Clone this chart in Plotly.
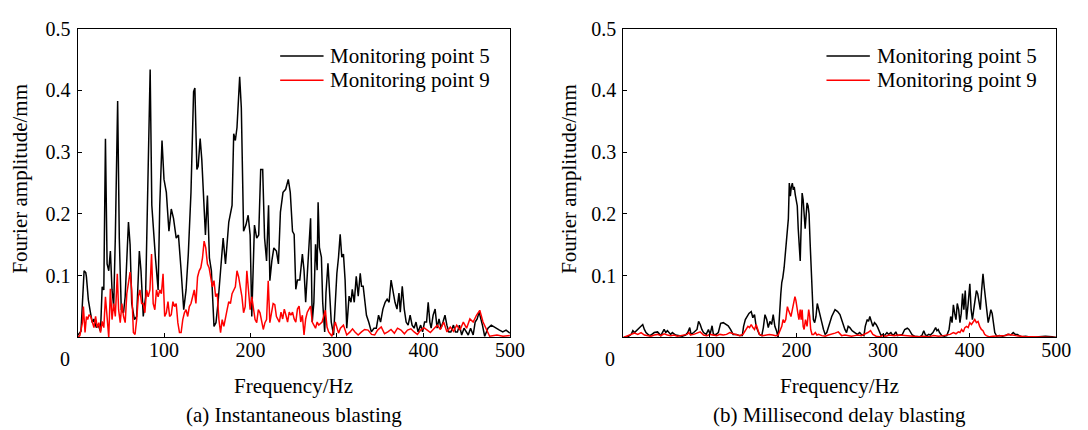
import plotly.graph_objects as go

# ---------------- data ----------------
# (a) Instantaneous blasting
a_p5_f = [0, 4, 7.6, 9.5, 10.3, 12.5, 15, 17.1, 19, 21.7, 24, 26.6, 28.5, 30.4, 32.3, 34.2, 36.1, 38.0, 39.9, 41.8,
          43.7, 46.4, 48.3, 50.6, 53.2, 55.1, 58.9, 60.8, 62.7, 65.8, 68.4, 71.5, 73.4, 76.0, 78.7, 81.7, 84.0, 85.9,
          88.2, 90.1, 93.2, 95.1, 97.7, 100, 102.7, 105.7, 108.4, 111, 114.1, 116.7, 119.8, 122.8, 125.5, 128.1,
          131.2, 134.2, 135.7, 138.0, 139.5, 141.8, 143.7, 146.4, 147.9, 150.2, 152.5, 154.8, 156.3, 157.8, 160.1,
          162.4, 165.4, 168.4, 171.1, 174.9, 178.7, 180.6, 182.5, 184.4, 187.5, 189.4, 192, 194.7, 197.3, 199.6,
          201.5, 204.6, 207.2, 209.5, 211.8, 214.1, 216.3, 218.6, 220.9, 222.4, 224.7, 227, 230, 232.3, 234.6,
          237.6, 240.7, 243.7, 246.0, 248.6, 250.5, 252.4, 254.3, 257, 260, 261.9, 263.8, 265.7, 267.6, 269.5,
          271.4, 273.3, 275.2, 277.1, 278.2, 279.7, 282, 283.5, 285.8, 287.3, 289.6, 291.1, 293.4, 296.1, 298,
          299.9, 301.8, 303.7, 305.6, 307.5, 309.4, 311.3, 314, 316.2, 317.7, 320, 322.3, 324.6, 326.9, 328.4,
          330.3, 332.2, 334.1, 336.7, 339.8, 342.8, 345.5, 348.1, 350.4, 353.1, 355.7, 358, 360.3, 362.6, 364.8,
          367.1, 369.4, 371.7, 373.2, 375.5, 377.8, 380.0, 382.3, 384.6, 386.9, 389.2, 391.4, 393.7, 396.8, 399.0,
          401.3, 403.6, 405.5, 407.4, 408.9, 411.2, 413.5, 415.8, 418.0, 420.3, 422.6, 424.9, 427.1, 429.4, 431.7,
          434.7, 437.0, 439.3, 441.6, 444.2, 446.9, 449.2, 451.8, 454.5, 457.5, 459.8, 462.1, 464.4, 465.1, 468.2,
          470.8, 474.6, 478.4, 483.4, 487.9, 491.7, 495.5, 500]
a_p5_v = [0.003, 0.01, 0.108, 0.105, 0.098, 0.061, 0.04, 0.024, 0.03, 0.016, 0.02, 0.01, 0.082, 0.077, 0.322, 0.119,
          0.108, 0.14, 0.077, 0.05, 0.161, 0.383, 0.161, 0.045, 0.04, 0.066, 0.187, 0.15, 0.055, 0.029, 0.034, 0.14,
          0.108, 0.034, 0.066, 0.256, 0.434, 0.214, 0.161, 0.129, 0.077, 0.214, 0.319, 0.256, 0.235, 0.172, 0.208,
          0.193, 0.161, 0.166, 0.108, 0.045, 0.077, 0.135, 0.235, 0.398, 0.404, 0.272, 0.277, 0.322, 0.288, 0.193,
          0.166, 0.23, 0.129, 0.108, 0.066, 0.018, 0.024, 0.055, 0.108, 0.161, 0.119, 0.187, 0.214, 0.33, 0.319,
          0.34, 0.422, 0.372, 0.172, 0.182, 0.198, 0.166, 0.034, 0.182, 0.161, 0.166, 0.272, 0.272, 0.161, 0.124,
          0.214, 0.092, 0.124, 0.145, 0.14, 0.119, 0.203, 0.235, 0.24, 0.256, 0.235, 0.172, 0.167, 0.078, 0.093,
          0.093, 0.135, 0.109, 0.057, 0.099, 0.151, 0.193, 0.025, 0.057, 0.151, 0.109, 0.219, 0.146, 0.13, 0.057,
          0.009, 0.072, 0.12, 0.083, 0.025, 0.004, 0.057, 0.104, 0.13, 0.167, 0.13, 0.135, 0.093, 0.015, 0.067,
          0.057, 0.078, 0.057, 0.099, 0.067, 0.104, 0.083, 0.083, 0.062, 0.036, 0.025, 0.009, 0.015, 0.015, 0.036,
          0.025, 0.046, 0.057, 0.062, 0.057, 0.093, 0.072, 0.057, 0.046, 0.072, 0.041, 0.083, 0.046, 0.025, 0.02,
          0.036, 0.02, 0.015, 0.025, 0.009, 0.02, 0.009, 0.025, 0.025, 0.057, 0.025, 0.015, 0.036, 0.046, 0.015,
          0.03, 0.015, 0.025, 0.036, 0.02, 0.009, 0.009, 0.02, 0.009, 0.009, 0.02, 0.004, 0.015, 0.009, 0.004, 0.015,
          0.004, 0.025, 0.03, 0.041, 0.036, 0.02, 0.002, 0.015, 0.02, 0.015, 0.012, 0.009, 0.012, 0.007]

a_p9_f = [0, 2.7, 5.7, 6.8, 8.7, 10.3, 11.8, 13.3, 15.2, 17.1, 19, 20.9, 22.8, 24.7, 26.6, 28.5, 30.4, 32.3, 34.2,
          36.1, 38, 39.9, 41.8, 43.7, 46, 47.5, 49.4, 51.3, 53.2, 55.1, 57, 58.9, 60.8, 62.7, 64.6, 66.5, 68.4, 70.3,
          72.2, 74.1, 76, 77.9, 79.8, 81.7, 83.7, 85.6, 87.5, 89.4, 91.3, 93.2, 95.1, 97, 98.9, 100.8, 102.7, 104.6,
          106.5, 108.4, 110.3, 112.2, 114.1, 116, 117.9, 119.8, 121.7, 123.6, 125.5, 127.4, 129.3, 131.2, 133.1,
          135, 136.9, 138.8, 140.7, 142.6, 144.5, 146.4, 148.3, 150.2, 152.1, 154, 155.9, 157.8, 159.7, 161.6,
          163.5, 165.4, 167.3, 169.2, 171.1, 173, 174.9, 176.8, 178.7, 180.6, 182.5, 184.4, 186.3, 188.2, 190.1,
          192, 193.9, 195.8, 197.7, 199.6, 201.5, 203.4, 205.3, 207.2, 209.1, 211, 212.9, 214.8, 216.7, 218.6,
          220.5, 222.4, 224.3, 226.2, 228.1, 230, 233.4, 235.3, 237.2, 239.1, 241, 242.9, 244.8, 246.7, 248.6,
          250.5, 252.4, 254.3, 256.2, 258.1, 260, 261.9, 263.8, 265.7, 267.6, 269.5, 271.4, 273.3, 275.2, 277.1,
          279, 282.8, 284.7, 286.6, 288.5, 290.4, 294.2, 298, 301.8, 304, 307.5, 311.3, 315.1, 318, 320.8, 324.5,
          328.4, 332, 336, 340, 343.6, 347, 351.2, 355, 358.8, 362.5, 366.4, 370, 374, 378, 381.6, 385.5, 389.2,
          393, 396.8, 400.5, 404.4, 408, 412, 416, 419.6, 423.4, 427.2, 431, 434.8, 438.5, 442.3, 446.1, 449.9,
          453.7, 457.5, 461.3, 465.1, 467, 468.9, 476.5, 485, 492, 500]
a_p9_v = [0, 0.003, 0.024, 0.05, 0.008, 0.034, 0.029, 0.037, 0.034, 0.026, 0.016, 0.034, 0.016, 0.024, 0.008, 0.026,
          0.016, 0.066, 0.024, 0.0, 0.079, 0.029, 0.055, 0.034, 0.103, 0.045, 0.024, 0.055, 0.034, 0.024, 0.071,
          0.092, 0.106, 0.077, 0.008, 0.005, 0.029, 0.066, 0.077, 0.055, 0.055, 0.04, 0.077, 0.066, 0.077, 0.135,
          0.055, 0.045, 0.077, 0.066, 0.077, 0.071, 0.103, 0.034, 0.04, 0.058, 0.034, 0.037, 0.058, 0.05, 0.055,
          0.024, 0.008, 0.008, 0.029, 0.04, 0.045, 0.034, 0.05, 0.055, 0.066, 0.077, 0.055, 0.098, 0.108, 0.113,
          0.129, 0.156, 0.145, 0.119, 0.113, 0.098, 0.082, 0.092, 0.066, 0.071, 0.029, 0.008, 0.029, 0.018, 0.034,
          0.045, 0.058, 0.055, 0.071, 0.077, 0.082, 0.108, 0.098, 0.082, 0.066, 0.04, 0.05, 0.108, 0.071, 0.045,
          0.066, 0.05, 0.029, 0.024, 0.045, 0.04, 0.024, 0.013, 0.024, 0.029, 0.092, 0.024, 0.04, 0.055, 0.053,
          0.034, 0.025, 0.041, 0.03, 0.046, 0.036, 0.025, 0.041, 0.036, 0.041, 0.03, 0.025, 0.046, 0.051, 0.025,
          0.036, 0.004, 0.03, 0.041, 0.046, 0.051, 0.025, 0.02, 0.015, 0.025, 0.02, 0.025, 0.033, 0.044, 0.017,
          0.009, 0.002, 0.025, 0.007, 0.015, 0.02, 0.004, 0.009, 0.014, 0.009, 0.004, 0.009, 0.013, 0.012, 0.005,
          0.004, 0.012, 0.017, 0.006, 0.009, 0.013, 0.007, 0.015, 0.012, 0.006, 0.012, 0.014, 0.009, 0.005, 0.012,
          0.016, 0.012, 0.008, 0.014, 0.02, 0.013, 0.025, 0.009, 0.017, 0.01, 0.02, 0.012, 0.025, 0.015, 0.03,
          0.025, 0.036, 0.044, 0.036, 0.025, 0.002, 0.004, 0.002, 0.003, 0.002]

# (b) Millisecond delay blasting
b_p5_f = [0, 5.3, 9.1, 11, 12.9, 16.7, 19.7, 22.4, 24.3, 26.2, 30, 31.9, 35.7, 39.5, 43.3, 47.1, 49, 50.9, 54.7, 56.6,
          60.4, 64.2, 68, 71.8, 74.4, 76.7, 78.2, 81.3, 85.1, 86.9, 88.8, 90.7, 92.6, 95.7, 98.3, 100.2, 102.5, 104,
          107.1, 109.7, 112.4, 115.4, 118.5, 121.1, 123.8, 126.8, 130.6, 134.4, 137.4, 138.9, 140.9, 142.8, 145.1,
          147.7, 149.6, 151.5, 153.4, 155.3, 157.2, 159.9, 161.7, 163.6, 165.6, 167.4, 169.3, 171.2, 173.1, 175,
          176.9, 178.8, 180.4, 181.9, 183, 184.2, 185.7, 186.8, 188.3, 189.5, 190.6, 191.7, 192.9, 194, 195.2,
          196.3, 197.4, 198.6, 199.7, 200.9, 202, 203.1, 204.3, 205.4, 206.5, 207.7, 208.8, 210, 211.1, 212.2,
          213.4, 214.5, 215.7, 216.8, 217.9, 219.5, 221, 222.5, 224, 225.5, 227.4, 229.3, 231.2, 233.1, 235, 236.9,
          240.7, 244.5, 247.5, 250.2, 252.8, 255.9, 257.8, 259.7, 261.6, 264.2, 267.3, 270.3, 273, 274.9, 277.9,
          279.4, 281.7, 283.2, 284.7, 286.3, 288.2, 290.1, 292, 293.9, 295.8, 297.7, 299.6, 301.5, 304.5, 306.4,
          309, 310.9, 312.8, 314.7, 316.6, 319.7, 322.3, 325, 328, 329.9, 331.8, 333.7, 336.4, 339.4, 342.5, 345.1,
          347, 348.9, 350.8, 352.7, 354.6, 357.6, 359.2, 360.7, 362.2, 363.7, 365.2, 367.9, 370.6, 373.6, 376.2,
          378.1, 379.7, 381.2, 382.7, 384.2, 385.7, 387.3, 388.8, 390.3, 391.8, 393.3, 394.9, 396.4, 398.3, 400.2,
          401.7, 403.2, 404.7, 406.2, 407.8, 409.3, 410.8, 412.3, 413.8, 415.4, 416.9, 418.4, 419.9, 421.4, 423,
          424.5, 426, 427.5, 429, 431.3, 434.3, 438.1, 441.9, 445, 447.6, 450.3, 452.6, 455.2, 457.1, 460.9, 464.7,
          472.3, 479.9, 487.5, 495.1, 500]
b_p5_v = [0, 0.001, 0.005, 0.011, 0.008, 0.013, 0.018, 0.021, 0.013, 0.008, 0.003, 0.004, 0.008, 0.009, 0.003, 0.013,
          0.008, 0.011, 0.005, 0.008, 0.004, 0.003, 0.002, 0.004, 0.008, 0.016, 0.005, 0.008, 0.013, 0.026, 0.021,
          0.013, 0.008, 0.005, 0.013, 0.005, 0.019, 0.005, 0.005, 0.008, 0.023, 0.024, 0.021, 0.019, 0.013, 0.005,
          0.005, 0.003, 0.003, 0.018, 0.029, 0.034, 0.039, 0.042, 0.032, 0.037, 0.018, 0.011, 0.005, 0.003, 0.016,
          0.037, 0.029, 0.016, 0.026, 0.021, 0.037, 0.018, 0.011, 0.0, 0.045, 0.071, 0.089, 0.097, 0.113, 0.134,
          0.15, 0.187, 0.192, 0.25, 0.229, 0.244, 0.25, 0.239, 0.244, 0.231, 0.223, 0.213, 0.176, 0.145, 0.124,
          0.181, 0.234, 0.223, 0.192, 0.176, 0.197, 0.218, 0.213, 0.2, 0.155, 0.118, 0.071, 0.029, 0.024, 0.034,
          0.055, 0.045, 0.034, 0.024, 0.013, 0.005, 0.008, 0.018, 0.034, 0.045, 0.042, 0.037, 0.024, 0.013, 0.008,
          0.018, 0.016, 0.011, 0.008, 0.005, 0.008, 0.005, 0.003, 0.018, 0.029, 0.026, 0.034, 0.026, 0.018, 0.024,
          0.021, 0.016, 0.008, 0.003, 0.005, 0.003, 0.008, 0.005, 0.008, 0.004, 0.005, 0.009, 0.003, 0.004, 0.005,
          0.013, 0.015, 0.013, 0.008, 0.004, 0.002, 0.002, 0.001, 0.004, 0.011, 0.004, 0.003, 0.005, 0.004, 0.008,
          0.013, 0.016, 0.011, 0.013, 0.008, 0.003, 0.002, 0.003, 0.013, 0.034, 0.024, 0.053, 0.039, 0.029, 0.055,
          0.045, 0.024, 0.039, 0.071, 0.045, 0.076, 0.029, 0.055, 0.087, 0.045, 0.029, 0.045, 0.06, 0.076, 0.071,
          0.06, 0.045, 0.076, 0.103, 0.081, 0.06, 0.039, 0.024, 0.034, 0.045, 0.039, 0.024, 0.008, 0.002, 0.003,
          0.002, 0.004, 0.005, 0.004, 0.008, 0.005, 0.005, 0.003, 0.001, 0.002, 0.0, 0.001, 0.002, 0.001, 0.0]

b_p9_f = [0, 5.3, 9.1, 12.9, 16.7, 20.5, 24.3, 28.1, 31.9, 35.7, 39.5, 43.3, 47.1, 50.9, 54.7, 58.5, 62.3, 66.1, 69.9,
          73.7, 75.6, 77.5, 81.3, 85.1, 88.8, 92.6, 96.4, 100.2, 104, 107.8, 111.6, 115.4, 119.2, 123, 126.8, 130.6,
          134.4, 138.2, 142, 143.9, 145.8, 147.7, 149.6, 151.5, 153.4, 155.3, 157.2, 161, 164.8, 168.6, 172.4,
          176.2, 178.8, 180.7, 183, 184.5, 186, 187.6, 189.5, 190.6, 192.1, 193.6, 195.2, 197.1, 198.2, 199.3,
          200.5, 201.6, 202.8, 204.3, 205.4, 206.5, 207.7, 208.8, 210.4, 212.2, 214.1, 215.3, 216.4, 217.9, 219.8,
          221.7, 223.6, 225.5, 229.3, 233.1, 236.9, 240.7, 244.5, 248.3, 250.2, 252.1, 255.9, 259.7, 263.5, 267.3,
          271.1, 274.9, 278.7, 282.5, 285.5, 288.2, 292, 295.8, 299.6, 303.3, 307.1, 312.8, 318.5, 324.2, 329.9,
          335.6, 341.3, 347, 352.7, 358.4, 364.1, 369.8, 373.6, 377.4, 381.2, 384.2, 386.9, 388.8, 390.7, 392.6,
          394.5, 396.4, 398.3, 400.2, 402.1, 404, 405.9, 407.8, 409.7, 411.6, 413.5, 415.4, 417.3, 419.2, 423,
          426.8, 434.3, 441.9, 443.8, 446.5, 449.5, 453.3, 457.1, 464.7, 472.3, 487.5, 500]
b_p9_v = [0, 0.003, 0.005, 0.007, 0.005, 0.008, 0.004, 0.003, 0.002, 0.004, 0.005, 0.003, 0.006, 0.004, 0.003, 0.004,
          0.002, 0.003, 0.004, 0.005, 0.008, 0.004, 0.005, 0.007, 0.009, 0.004, 0.003, 0.005, 0.004, 0.003, 0.005,
          0.004, 0.005, 0.008, 0.006, 0.004, 0.003, 0.005, 0.014, 0.018, 0.016, 0.021, 0.016, 0.013, 0.021, 0.011,
          0.005, 0.003, 0.004, 0.005, 0.004, 0.003, 0.004, 0.011, 0.018, 0.029, 0.024, 0.029, 0.05, 0.045, 0.039,
          0.034, 0.045, 0.058, 0.066, 0.06, 0.045, 0.039, 0.029, 0.045, 0.029, 0.045, 0.018, 0.013, 0.029, 0.018,
          0.045, 0.034, 0.013, 0.005, 0.005, 0.008, 0.004, 0.005, 0.003, 0.002, 0.004, 0.005, 0.007, 0.009, 0.005,
          0.003, 0.004, 0.003, 0.002, 0.003, 0.004, 0.003, 0.005, 0.008, 0.011, 0.005, 0.002, 0.001, 0.003, 0.002,
          0.004, 0.003, 0.004, 0.003, 0.002, 0.002, 0.001, 0.002, 0.001, 0.003, 0.002, 0.003, 0.004, 0.005, 0.008,
          0.006, 0.009, 0.008, 0.013, 0.009, 0.016, 0.018, 0.016, 0.024, 0.021, 0.026, 0.029, 0.024, 0.026, 0.018,
          0.013, 0.011, 0.005, 0.003, 0.001, 0.002, 0.002, 0.003, 0.005, 0.005, 0.004, 0.003, 0.002, 0.001, 0.001,
          0.001, 0.0]

series_names = ["Monitoring point 5", "Monitoring point 9"]
series_colors = ["black", "#ff0000"]
x_ticks = [0, 100, 200, 300, 400, 500]
y_ticks = [0.1, 0.2, 0.3, 0.4, 0.5]
x_title = "Frequency/Hz"
y_title = "Fourier amplitude/mm"
captions = ["(a) Instantaneous blasting", "(b) Millisecond delay blasting"]

# ---------------- figure ----------------
FONT = "Liberation Serif, Times New Roman, serif"
OFF = 8                      # page body margin of the rendered html
W, H = 1088 - OFF, 430 - OFF


def px(x):                   # reference pixel column -> paper x
    return (x - OFF) / W


def py(y):                   # reference pixel row -> paper y
    return 1 - (y - OFF) / H


dom_a = [px(78.5), px(517)]
dom_b = [px(632), px(1071)]
dom_y = [py(335), py(18)]

fig = go.Figure()
panels = [(a_p5_f, a_p5_v, a_p9_f, a_p9_v, "x", "y"), (b_p5_f, b_p5_v, b_p9_f, b_p9_v, "x2", "y2")]
for (f5, v5, f9, v9, xa, ya) in panels:
    fig.add_trace(go.Scatter(x=f5, y=v5, mode="lines", name=series_names[0], showlegend=False,
                             line=dict(color=series_colors[0], width=1.5), xaxis=xa, yaxis=ya))
    fig.add_trace(go.Scatter(x=f9, y=v9, mode="lines", name=series_names[1], showlegend=False,
                             line=dict(color=series_colors[1], width=1.5), xaxis=xa, yaxis=ya))

xax = dict(range=[0, 500], tickvals=x_ticks, ticktext=[""] + [str(t) for t in x_ticks[1:]],
           ticks="inside", ticklen=4, tickcolor="black", showline=True, mirror=True, linecolor="black",
           linewidth=1, showgrid=False, zeroline=False, ticklabelstandoff=-5, ticklabeloverflow="allow",
           tickfont=dict(family=FONT, size=20, color="black"))
yax = dict(range=[0, 0.5], tickvals=y_ticks, ticktext=[f"{t:.1f}" for t in y_ticks],
           ticks="inside", ticklen=4, tickcolor="black", showline=True, mirror=True, linecolor="black",
           linewidth=1, showgrid=False, zeroline=False, ticklabelstandoff=2, ticklabeloverflow="allow",
           tickfont=dict(family=FONT, size=20, color="black"))

fig.update_layout(
    width=W, height=H, margin=dict(l=0, r=0, t=0, b=0),
    paper_bgcolor="white", plot_bgcolor="white", showlegend=False,
    xaxis=dict(domain=dom_a, anchor="y", **xax),
    yaxis=dict(domain=dom_y, anchor="x", **yax),
    xaxis2=dict(domain=dom_b, anchor="y2", **xax),
    yaxis2=dict(domain=dom_y, anchor="x2", **yax),
)

ann, shapes = [], []
for i, (xr, dom, ylab_x, leg_x) in enumerate([("x", dom_a, 20, 284), ("x2", dom_b, 577, 838)]):
    cx = (dom[0] + dom[1]) / 2
    ann.append(dict(x=0, xref=xr, y=dom_y[0], yref="paper", text="0", showarrow=False,
                    xanchor="center", yanchor="top", xshift=-13, yshift=-9,
                    font=dict(family=FONT, size=20, color="black")))
    ann.append(dict(x=cx, xref="paper", y=py(385), yref="paper", text=x_title, showarrow=False,
                    xanchor="center", yanchor="middle", font=dict(family=FONT, size=21, color="black")))
    ann.append(dict(x=cx, xref="paper", y=py(415), yref="paper", text=captions[i], showarrow=False,
                    xanchor="center", yanchor="middle", font=dict(family=FONT, size=21, color="black")))
    ann.append(dict(x=px(ylab_x), xref="paper", y=py(172), yref="paper", text=y_title, showarrow=False,
                    textangle=-90, xanchor="center", yanchor="middle",
                    font=dict(family=FONT, size=21, color="black")))
    # legend (sample line + label) drawn inside each panel
    for k, (name, col) in enumerate(zip(series_names, series_colors)):
        yy = 46 + 25 * k
        shapes.append(dict(type="line", xref="paper", yref="paper", x0=px(leg_x), x1=px(leg_x + 44),
                           y0=py(yy), y1=py(yy), line=dict(color=col, width=1.5)))
        ann.append(dict(x=px(leg_x + 49), xref="paper", y=py(yy), yref="paper", text=name, showarrow=False,
                        xanchor="left", yanchor="middle", font=dict(family=FONT, size=21, color="black")))
fig.update_layout(annotations=ann, shapes=shapes)

fig.write_html("out.html")
